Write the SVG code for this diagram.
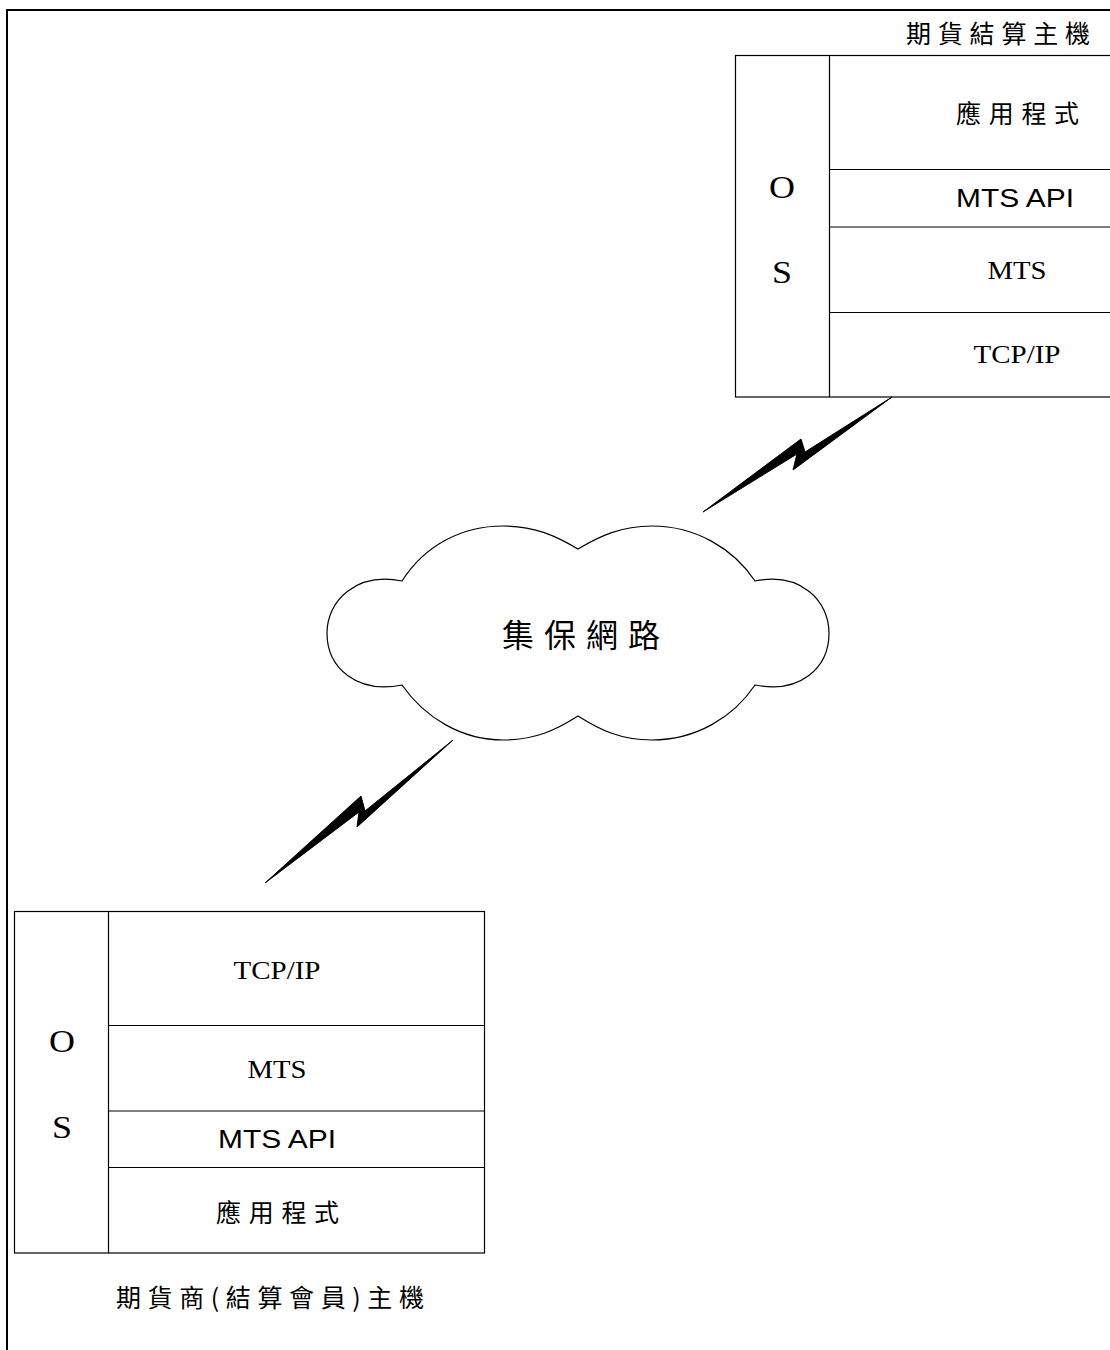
<svg xmlns="http://www.w3.org/2000/svg" width="1110" height="1350" viewBox="0 0 1110 1350">
<style>
.ln{fill:none;stroke:#000;stroke-width:1.2}
.cjk{font-family:"Noto Sans CJK TC","Noto Sans CJK SC",sans-serif;font-size:25px;fill:#000}
.big{font-size:32px}
.tnr{font-family:"Liberation Serif",serif;font-size:26px;fill:#000;text-anchor:middle}
.ari{font-family:"Liberation Sans",sans-serif;font-size:25px;fill:#000;text-anchor:middle}
.os{font-family:"Liberation Serif",serif;font-size:31px;fill:#000;text-anchor:middle}
.bolt{fill:#000;stroke:#000;stroke-width:1;stroke-linejoin:round}
</style>
<rect x="0" y="0" width="1110" height="1350" fill="#fff"/>
<rect x="7" y="10" width="1200" height="1400" fill="none" stroke="#000" stroke-width="2"/>

<g id="host-clearing">
<text class="cjk" x="906" y="43" letter-spacing="6.8">期貨結算主機</text>
<rect class="ln" x="735.5" y="55.5" width="500" height="341.5"/>
<line class="ln" x1="829.5" y1="55.5" x2="829.5" y2="397"/>
<line class="ln" x1="829.5" y1="169.5" x2="1200" y2="169.5"/>
<line class="ln" x1="829.5" y1="227" x2="1200" y2="227"/>
<line class="ln" x1="829.5" y1="312.5" x2="1200" y2="312.5"/>
<text class="os" x="782" y="198" textLength="26" lengthAdjust="spacingAndGlyphs">O</text>
<text class="os" x="782" y="283" textLength="20" lengthAdjust="spacingAndGlyphs">S</text>
<text class="cjk" x="956" y="123" letter-spacing="7.7">應用程式</text>
<text class="ari" x="1015" y="207" textLength="118" lengthAdjust="spacingAndGlyphs">MTS API</text>
<text class="tnr" x="1017" y="279" textLength="59" lengthAdjust="spacingAndGlyphs">MTS</text>
<text class="tnr" x="1017" y="363" textLength="87" lengthAdjust="spacingAndGlyphs">TCP/IP</text>
</g>

<g id="network-cloud">
<path class="ln" d="M402,581 C425,545 462,526 503,526 C535,526 556,536 578,549 C600,536 621,526 652,526 C695,526 733,548 755,581 C800,572 829,600 829,633 C829,668 800,694 755,685 C733,718 695,740 652,740 C621,740 600,730 578,716 C556,730 535,740 503,740 C462,740 425,718 402,685 C357,694 327,668 327,633 C327,600 357,572 402,581 Z"/>
<text class="cjk big" x="502" y="647" letter-spacing="10">集保網路</text>
</g>

<g id="host-member">
<rect class="ln" x="14.5" y="911.5" width="470" height="341.5"/>
<line class="ln" x1="108.5" y1="911.5" x2="108.5" y2="1253"/>
<line class="ln" x1="108.5" y1="1025.5" x2="484.5" y2="1025.5"/>
<line class="ln" x1="108.5" y1="1111" x2="484.5" y2="1111"/>
<line class="ln" x1="108.5" y1="1167.5" x2="484.5" y2="1167.5"/>
<text class="os" x="62" y="1052" textLength="26" lengthAdjust="spacingAndGlyphs">O</text>
<text class="os" x="62" y="1138" textLength="20" lengthAdjust="spacingAndGlyphs">S</text>
<text class="tnr" x="277" y="979" textLength="87" lengthAdjust="spacingAndGlyphs">TCP/IP</text>
<text class="tnr" x="277" y="1078" textLength="59" lengthAdjust="spacingAndGlyphs">MTS</text>
<text class="ari" x="277" y="1148" textLength="118" lengthAdjust="spacingAndGlyphs">MTS API</text>
<text class="cjk" x="216" y="1222" letter-spacing="7.7">應用程式</text>
<text class="cjk" x="116" y="1307" letter-spacing="6.6">期貨商(結算會員)主機</text>
</g>

<g id="connectors">
<polygon class="bolt" points="892,397 805,452 801,439 703,512 797,454 793,470"/>
<polygon class="bolt" points="453,740 365,811 361,796 265,883 359,812 357,827"/>
</g>
</svg>
